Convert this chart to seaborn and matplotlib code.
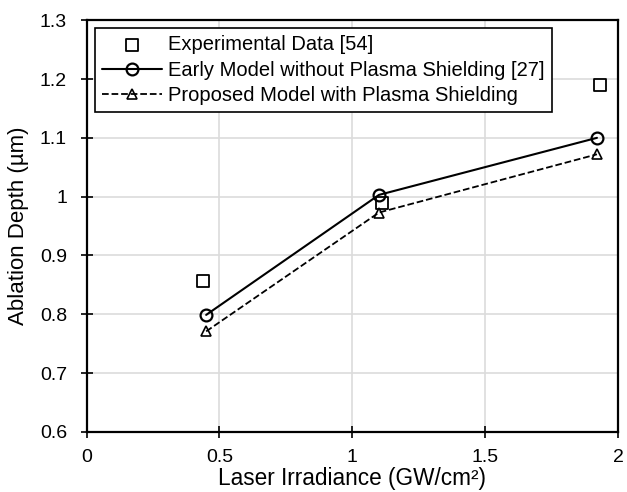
import numpy as np
import pandas as pd
import matplotlib
matplotlib.use("Agg")
import matplotlib.pyplot as plt
import seaborn as sns

# data
exp_x = [0.44, 1.11, 1.93]
exp_y = [0.857, 0.99, 1.19]
model_x = [0.45, 1.10, 1.92]
early_y = [0.799, 1.003, 1.100]
proposed_y = [0.771, 0.973, 1.072]

x_ticks = [0, 0.5, 1, 1.5, 2]
x_labels = ["0", "0.5", "1", "1.5", "2"]
y_ticks = [0.6, 0.7, 0.8, 0.9, 1.0, 1.1, 1.2, 1.3]
y_labels = ["0.6", "0.7", "0.8", "0.9", "1", "1.1", "1.2", "1.3"]

sns.set_style("whitegrid")
plt.rcParams['font.family'] = ['Liberation Sans', 'DejaVu Sans']
plt.rcParams['text.color'] = 'black'
plt.rcParams['axes.labelcolor'] = 'black'

fig = plt.figure(figsize=(6.27, 4.92), dpi=100)
ax = fig.add_axes([0.138, 0.122, 0.848, 0.837])

exp_df = pd.DataFrame({"x": exp_x, "y": exp_y})
model_df = pd.DataFrame({"x": model_x, "early": early_y, "proposed": proposed_y})

sns.scatterplot(data=exp_df, x="x", y="y", ax=ax, marker="s", s=85,
                facecolor="white", edgecolor="black", linewidth=1.3,
                label="Experimental Data [54]", zorder=3)
sns.lineplot(data=model_df, x="x", y="early", ax=ax, color="black", linewidth=1.5,
             marker="o", markersize=8.5, markerfacecolor="none", markeredgecolor="black",
             markeredgewidth=1.6, label="Early Model without Plasma Shielding [27]", zorder=4)
sns.lineplot(data=model_df, x="x", y="proposed", ax=ax, color="black", linewidth=1.3,
             linestyle="--", marker="^", markersize=7.5, markerfacecolor="none",
             markeredgecolor="black", markeredgewidth=1.2,
             label="Proposed Model with Plasma Shielding", zorder=4)

ax.set_xlim(0, 2)
ax.set_ylim(0.6, 1.3)
ax.set_xticks(x_ticks)
ax.set_xticklabels(x_labels)
ax.set_yticks(y_ticks)
ax.set_yticklabels(y_labels)
ax.grid(True, color="#dcdcdc", linewidth=1.2)
for s in ax.spines.values():
    s.set_color("black")
    s.set_linewidth(1.6)
ax.tick_params(axis="both", direction="inout", length=8, width=1.2, color="black",
               labelsize=14, labelcolor="black", bottom=True, left=True)
ax.tick_params(axis="x", pad=8)
ax.tick_params(axis="y", pad=10)

ax.set_xlabel("Laser Irradiance (GW/cm²)", fontsize=16.3, labelpad=1)
ax.set_ylabel("Ablation Depth (µm)", fontsize=16, labelpad=8)

leg = ax.legend(loc="upper left", fontsize=14.5, frameon=True, fancybox=False,
                edgecolor="black", framealpha=1, borderpad=0.35, labelspacing=0.32,
                handlelength=3.0, handletextpad=0.3, borderaxespad=0.4)
leg.get_frame().set_linewidth(1.2)

fig.savefig("out.png", dpi=100)
